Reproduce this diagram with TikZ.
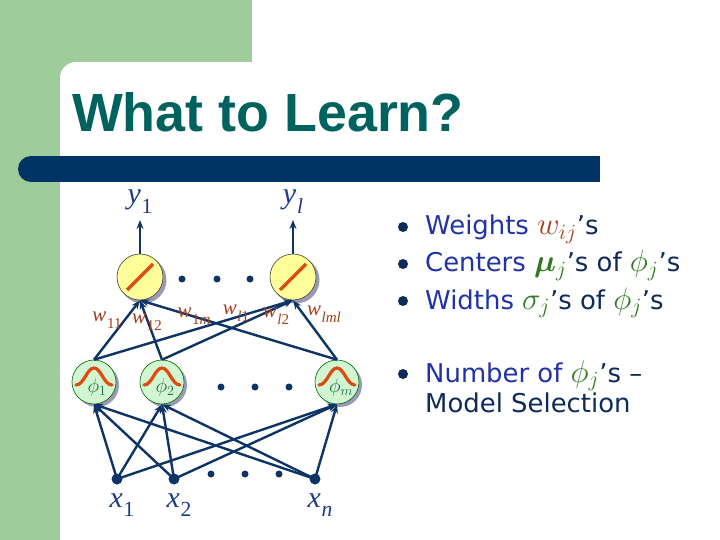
\RequirePackage{fix-cm}
\documentclass[tikz,border=0pt]{standalone}
\usepackage{fontspec}
\usepackage{bm}
\setmainfont{Liberation Serif}
\newfontfamily\titlefont{Liberation Sans}
\newfontfamily\bulletfont{DejaVu Sans}
\usetikzlibrary{arrows.meta}
\definecolor{greenbg}{HTML}{9ECC9A}
\definecolor{titleteal}{HTML}{00625E}
\definecolor{barblue}{HTML}{003366}
\definecolor{navy}{HTML}{0D3466}
\definecolor{outyellow}{HTML}{FFFF99}
\definecolor{hidgreen}{HTML}{D2F5D2}
\definecolor{shadowc}{HTML}{9A9AB8}
\definecolor{bumporange}{HTML}{E04A10}
\definecolor{wbrown}{HTML}{A0401A}
\definecolor{phigreen}{HTML}{1E6A4A}
\definecolor{mathgreen}{HTML}{2E7A1E}
\definecolor{labblue}{HTML}{1A3A8A}
\definecolor{txtblue}{HTML}{2032A8}
\definecolor{txtnavy}{HTML}{0D2A5A}
\newcommand\vsub[2]{\textit{#1}\kern0.03em\raisebox{-0.32em}{\scalebox{0.72}{#2}}}
\newcommand\bmath[1]{\scalebox{1.2}{$#1$}}
\tikzset{
  outn/.style={circle, draw=black!70!olive, fill=outyellow, minimum size=46bp, inner sep=0, line width=0.6bp},
  hidn/.style={circle, draw=black!60!green, fill=hidgreen, minimum size=44bp, inner sep=0, line width=0.6bp},
  indot/.style={circle, fill=navy, minimum size=11bp, inner sep=0},
  smalldot/.style={circle, fill=navy, minimum size=7bp, inner sep=0},
  edge/.style={draw=navy, line width=2.4bp, -{Stealth[length=9bp,width=7bp]}},
  wlab/.style={text=wbrown, font=\fontsize{21}{22}\selectfont, inner sep=0},
  xylab/.style={text=labblue, font=\fontsize{30}{32}\selectfont, inner sep=0, anchor=base},
  philab/.style={text=phigreen, font=\fontsize{20}{22}\selectfont, inner sep=0},
  bul/.style={circle, fill=txtnavy, minimum size=10bp, inner sep=0},
  btext/.style={anchor=base west, inner sep=0, font=\bulletfont\fontsize{26}{30}\selectfont, text=txtnavy},
  gauss/.pic={\draw[bumporange, line width=3.2bp, line cap=round] (-18,3) .. controls (-10,3) and (-7,-14) .. (0,-14) .. controls (7,-14) and (10,3) .. (18,3);},
  slash/.pic={\draw[bumporange, line width=3.4bp] (-13,13) -- (13,-13);}
}
\begin{document}
\begin{tikzpicture}[x=1bp,y=-1bp]
\useasboundingbox (0,0) rectangle (720,540);
% background
\fill[greenbg] (0,0) rectangle (252,62);
\fill[greenbg] (0,0) rectangle (60,540);
\fill[greenbg] (60,62) rectangle (76,78);
\fill[white] (76,78) circle (16);
\fill[white] (76,62) rectangle (252,540);
\fill[white] (60,78) rectangle (76,540);
% bar
\fill[barblue] (31,156) rectangle (600,182);
\fill[barblue] (31,169) circle (13);
% title
\node[anchor=base west, text=titleteal, font=\titlefont\bfseries\fontsize{54}{60}\selectfont, inner sep=0] (title) at (72,132) {What to Learn?};

% shadows
\fill[shadowc] (143,280) circle (23.5);
\fill[shadowc] (296,280) circle (23.5);
\fill[shadowc] (97,385) circle (22);
\fill[shadowc] (165,385) circle (22);
\fill[shadowc] (340,385) circle (22);

% output nodes
\node[outn] (y1) at (140,277) {};
\node[outn] (yl) at (293,277) {};
\pic at (y1) {slash};
\pic at (yl) {slash};
% hidden nodes
\node[hidn] (p1) at (94,382) {};
\node[hidn] (p2) at (162,382) {};
\node[hidn] (pm) at (337,382) {};
\pic at (p1) {gauss};
\pic at (p2) {gauss};
\pic at (pm) {gauss};
\node[philab] (p1l) at (97,388) {$\phi_1$};
\node[philab] (p2l) at (165,388) {$\phi_2$};
\node[philab] (pml) at (341,388) {$\phi_m$};
% input nodes
\node[indot] (x1) at (117,479) {};
\node[indot] (x2) at (174,479) {};
\node[indot] (xn) at (315,479) {};

% dots
\node[smalldot] (od1) at (182,279) {};
\node[smalldot] (od2) at (217,279) {};
\node[smalldot] (od3) at (250,279) {};
\node[smalldot] (hd1) at (221,387) {};
\node[smalldot] (hd2) at (255,387) {};
\node[smalldot] (hd3) at (289,387) {};
\node[smalldot] (id1) at (211,474) {};
\node[smalldot] (id2) at (245,474) {};
\node[smalldot] (id3) at (279,474) {};

% output arrows
\coordinate (y1t) at (140,220);
\coordinate (ylt) at (293,220);
\draw[edge] (y1.north) -- (y1t);
\draw[edge] (yl.north) -- (ylt);

% input -> hidden
\foreach \i in {x1,x2,xn}{
  \foreach \h in {p1,p2,pm}{
    \draw[edge] (\i.center) -- (\h.south);
  }
}
% hidden -> output
\foreach \h in {p1,p2,pm}{
  \foreach \o in {y1,yl}{
    \draw[edge] (\h.north) -- (\o.south);
  }
}

% labels
\node[xylab] (ly1) at (140,204) {\vsub{y}{1}};
\node[xylab] (lyl) at (293,204) {\vsub{y}{\textit{l}}};
\node[xylab] (lx1) at (122,507) {\vsub{x}{1}};
\node[xylab] (lx2) at (179,507) {\vsub{x}{2}};
\node[xylab] (lxn) at (320,507) {\vsub{x}{\textit{n}}};

\node[wlab] (w11) at (107,320) {\vsub{w}{11}};
\node[wlab] (w12) at (147,322) {\vsub{w}{12}};
\node[wlab] (w1m) at (194,316) {\vsub{w}{1\textit{m}}};
\node[wlab] (wl1) at (236,313) {\vsub{w}{\textit{l}1}};
\node[wlab] (wl2) at (276,316) {\vsub{w}{\textit{l}2}};
\node[wlab] (wlm) at (324,314) {\vsub{w}{\textit{lml}}};

% bullets
\node[bul] (b1) at (403,227) {};
\node[bul] (b2) at (403,264) {};
\node[bul] (b3) at (403,301) {};
\node[bul] (b4) at (403,374) {};
\node[btext] (t1) at (425,235) {\textcolor{txtblue}{Weights} \textcolor{wbrown}{\bmath{w_{ij}}}’s};
\node[btext] (t2) at (425,272) {\textcolor{txtblue}{Centers} \textcolor{mathgreen}{\bmath{\bm{\mu}_j}}’s of \textcolor{mathgreen}{\bmath{\phi_j}}’s};
\node[btext] (t3) at (425,309) {\textcolor{txtblue}{Widths} \textcolor{mathgreen}{\bmath{\sigma_j}}’s of \textcolor{mathgreen}{\bmath{\phi_j}}’s};
\node[btext] (t4) at (425,382) {\textcolor{txtblue}{Number of} \textcolor{mathgreen}{\bmath{\phi_j}}’s –};
\node[btext] (t5) at (425,412) {Model Selection};
\end{tikzpicture}
\end{document}
